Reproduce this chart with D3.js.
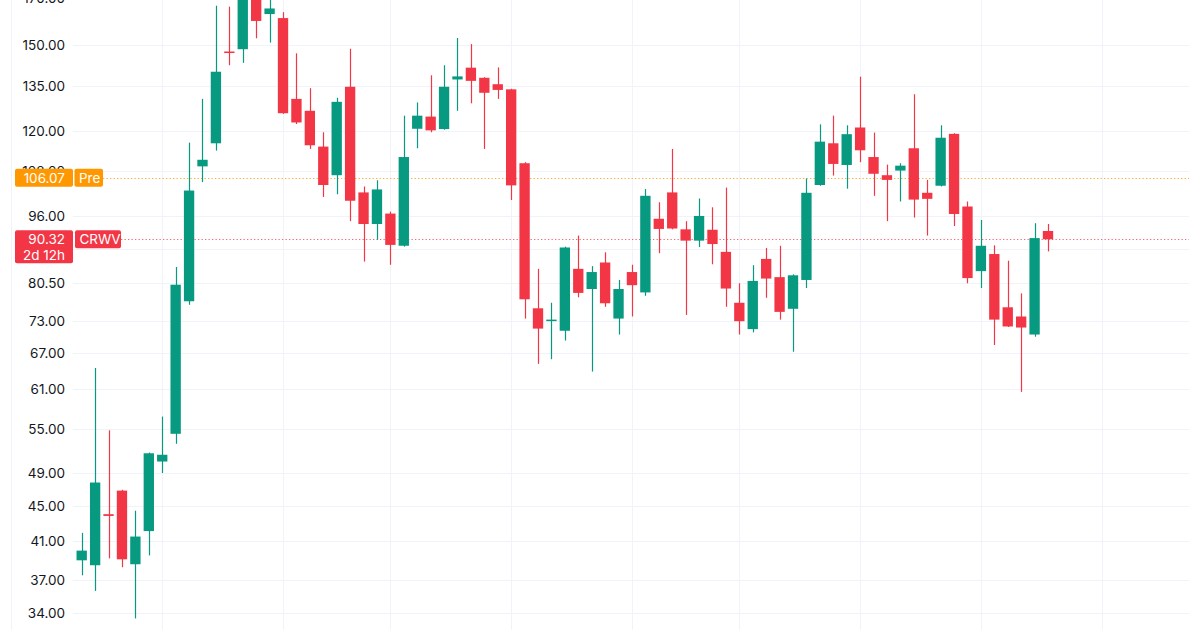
<!DOCTYPE html>
<html>
<head>
<meta charset="utf-8">
<script src="https://cdn.jsdelivr.net/npm/d3@7"></script>
<style>
  html, body { margin: 0; padding: 0; background: #ffffff; }
  svg { display: block; }
  text { font-family: Inter, "Noto Sans", sans-serif; }
</style>
</head>
<body>
<svg id="chart" width="1200" height="630"></svg>
<script>
// ---- data ----
const open  = [39.0, 38.5, 44.0, 46.8, 38.6, 42.1, 50.5, 54.3, 76.8, 109.3,
               116.1, 147.6, 148.5, 176.0, 162.8, 161.1, 130.4, 126.4, 115.1, 106.8,
               134.6, 102.1, 94.0, 96.6, 88.8, 120.6, 124.5, 120.5, 137.2, 141.5,
               137.8, 135.5, 133.7, 110.2, 75.4, 73.0, 71.1, 83.6, 79.3, 85.0,
               73.4, 82.9, 78.6, 95.3, 102.1, 92.7, 90.0, 92.6, 87.4, 76.5,
               71.4, 85.8, 81.8, 75.3, 81.2, 104.1, 116.1, 109.7, 121.0, 112.0,
               106.8, 108.1, 114.6, 102.0, 103.9, 119.0, 98.4, 83.1, 86.9, 75.6,
               73.8, 70.4, 92.3];
const high  = [41.9, 64.5, 54.8, 46.9, 44.4, 51.7, 56.8, 84.0, 116.3, 130.4,
               166.4, 166.0, 187.0, 182.0, 172.0, 163.6, 146.9, 134.1, 119.5, 130.8,
               148.7, 103.7, 105.4, 97.1, 124.8, 129.2, 138.7, 142.4, 152.9, 150.5,
               138.0, 141.6, 133.9, 110.5, 83.6, 76.5, 88.6, 91.2, 84.2, 87.3,
               81.2, 84.5, 103.0, 99.5, 114.4, 94.7, 100.5, 98.2, 103.4, 80.5,
               84.4, 88.3, 88.8, 82.4, 105.9, 122.0, 124.8, 121.7, 138.2, 119.4,
               109.8, 110.2, 132.0, 105.5, 121.7, 119.2, 99.7, 95.0, 88.9, 85.4,
               78.4, 94.2, 94.0];
const low   = [37.5, 36.0, 39.2, 38.3, 33.5, 39.5, 49.0, 52.9, 76.1, 104.9,
               113.9, 142.4, 143.3, 152.8, 151.1, 125.4, 122.1, 114.4, 100.9, 101.6,
               94.7, 85.2, 90.2, 84.5, 88.6, 114.6, 119.5, 120.3, 126.4, 128.9,
               114.4, 130.4, 100.1, 73.4, 65.2, 66.0, 69.3, 77.6, 63.9, 75.7,
               70.4, 73.8, 77.9, 87.1, 92.7, 74.1, 88.5, 84.6, 75.7, 70.4,
               70.8, 77.5, 73.2, 67.3, 79.5, 103.9, 106.7, 103.1, 110.5, 101.2,
               94.7, 99.7, 95.6, 91.2, 103.7, 93.5, 80.5, 79.5, 68.5, 71.8,
               60.6, 70.0, 87.5];
const close = [40.0, 47.8, 43.8, 39.1, 41.5, 51.6, 51.4, 80.2, 102.6, 111.2,
               140.0, 147.2, 178.0, 159.9, 165.2, 125.6, 122.6, 115.5, 104.1, 129.4,
               99.9, 94.0, 102.9, 89.0, 112.0, 124.8, 120.1, 134.6, 138.3, 136.7,
               132.5, 133.5, 104.0, 77.2, 71.5, 73.2, 88.4, 78.5, 82.9, 76.4,
               79.3, 80.1, 101.2, 92.8, 92.9, 90.0, 96.0, 89.2, 79.4, 72.9,
               81.0, 81.5, 74.7, 82.2, 102.0, 116.6, 110.0, 118.9, 114.0, 107.2,
               105.5, 109.5, 100.2, 100.4, 117.8, 96.5, 81.6, 88.8, 73.2, 71.9,
               71.7, 90.6, 90.32];
const priceTicks = [34, 37, 41, 45, 49, 55, 61, 67, 73, 80.5, 88, 96, 108, 120, 135, 150, 170];
const timeGridBars = [6, 15, 23, 32, 41, 49, 58, 67, 76];
const symbol = "CRWV";
const lastPrice = 90.32;
const countdown = "2d 12h";
const preLabel = "Pre";
const prePrice = 106.07;

// ---- layout ----
const W = 1200, H = 630;
const plotLeft = 73, plotRight = 1189;
const UP = "#089981", DOWN = "#F23645", PRE = "#FF9800", GRID = "#F0F3FA";

const svg = d3.select("#chart");

const bars = d3.range(open.length);
const x = d3.scaleLinear().domain([0, 72]).range([81.7, 1048]);
const y = d3.scaleLog().domain([32.50, 168.9]).range([H, 0]);
const step = x(1) - x(0);
const bodyW = step * 0.77;

// clip
svg.append("clipPath").attr("id", "plotclip")
  .append("rect").attr("x", plotLeft).attr("y", 0).attr("width", plotRight - plotLeft).attr("height", H);

// left border line
svg.append("line").attr("x1", 11.5).attr("x2", 11.5).attr("y1", 0).attr("y2", H)
  .attr("stroke", GRID).attr("stroke-width", 1);

// grid
const grid = svg.append("g").attr("clip-path", "url(#plotclip)");
grid.selectAll("line.h").data(priceTicks).join("line")
  .attr("class", "h")
  .attr("x1", plotLeft).attr("x2", plotRight)
  .attr("y1", d => Math.round(y(d)) + 0.5).attr("y2", d => Math.round(y(d)) + 0.5)
  .attr("stroke", GRID).attr("stroke-width", 1);
grid.selectAll("line.v").data(timeGridBars).join("line")
  .attr("class", "v")
  .attr("x1", d => Math.round(x(d)) + 0.5).attr("x2", d => Math.round(x(d)) + 0.5)
  .attr("y1", 0).attr("y2", H)
  .attr("stroke", GRID).attr("stroke-width", 1);

// price lines (dotted)
const lines = svg.append("g");
lines.append("line")
  .attr("x1", 103).attr("x2", plotRight)
  .attr("y1", Math.round(y(prePrice)) + 0.5).attr("y2", Math.round(y(prePrice)) + 0.5)
  .attr("stroke", PRE).attr("stroke-width", 1).attr("stroke-dasharray", "1.3 2.2").attr("opacity", 0.8);
lines.append("line")
  .attr("x1", 121).attr("x2", plotRight)
  .attr("y1", Math.round(y(lastPrice)) + 0.5).attr("y2", Math.round(y(lastPrice)) + 0.5)
  .attr("stroke", DOWN).attr("stroke-width", 1).attr("stroke-dasharray", "1.3 2.2").attr("opacity", 0.75);

// candles
const cg = svg.append("g").attr("clip-path", "url(#plotclip)");
const color = i => close[i] >= open[i] ? UP : DOWN;
cg.selectAll("line.wick").data(bars).join("line")
  .attr("class", "wick")
  .attr("x1", i => Math.round(x(i)) + 0.5).attr("x2", i => Math.round(x(i)) + 0.5)
  .attr("y1", i => y(high[i])).attr("y2", i => y(low[i]))
  .attr("stroke", color).attr("stroke-width", 1.2);
cg.selectAll("rect.body").data(bars).join("rect")
  .attr("class", "body")
  .attr("x", i => x(i) - bodyW / 2)
  .attr("width", bodyW)
  .attr("y", i => y(Math.max(open[i], close[i])))
  .attr("height", i => Math.max(1.5, Math.abs(y(open[i]) - y(close[i]))))
  .attr("fill", color);

// price axis labels (left)
const ax = svg.append("g");
ax.selectAll("text").data(priceTicks).join("text")
  .attr("x", 65).attr("y", d => y(d))
  .attr("text-anchor", "end").attr("dominant-baseline", "central")
  .attr("font-size", 13.5).attr("fill", "#131722")
  .text(d => d3.format(".2f")(d));

// Pre label
const preY = y(prePrice);
const lb = svg.append("g");
lb.append("rect").attr("x", 15).attr("y", preY - 9).attr("width", 58).attr("height", 18).attr("rx", 2).attr("fill", PRE);
lb.append("text").attr("x", 65).attr("y", preY).attr("text-anchor", "end").attr("dominant-baseline", "central")
  .attr("font-size", 13.5).attr("fill", "#fff").text(d3.format(".2f")(prePrice));
lb.append("rect").attr("x", 74.5).attr("y", preY - 9).attr("width", 28.5).attr("height", 18).attr("rx", 2).attr("fill", PRE);
lb.append("text").attr("x", 79).attr("y", preY).attr("dominant-baseline", "central")
  .attr("font-size", 13.5).attr("fill", "#fff").text(preLabel);

// Last price label
const lastY = y(lastPrice);
lb.append("rect").attr("x", 15).attr("y", lastY - 9).attr("width", 58).attr("height", 33).attr("rx", 2).attr("fill", DOWN);
lb.append("text").attr("x", 65).attr("y", lastY).attr("text-anchor", "end").attr("dominant-baseline", "central")
  .attr("font-size", 13.5).attr("fill", "#fff").text(d3.format(".2f")(lastPrice));
lb.append("text").attr("x", 65).attr("y", lastY + 15.5).attr("text-anchor", "end").attr("dominant-baseline", "central")
  .attr("font-size", 13.5).attr("fill", "#fff").text(countdown);
lb.append("rect").attr("x", 75).attr("y", lastY - 9).attr("width", 46).attr("height", 18).attr("rx", 2).attr("fill", DOWN);
lb.append("text").attr("x", 79.5).attr("y", lastY).attr("dominant-baseline", "central")
  .attr("font-size", 13.5).attr("fill", "#fff").text(symbol);
</script>
</body>
</html>
